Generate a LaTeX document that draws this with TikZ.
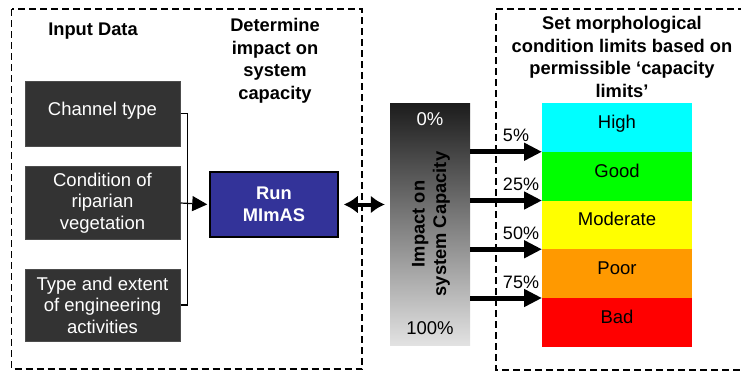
\documentclass[tikz,border=0pt]{standalone}
\usepackage{fontspec}
\setmainfont{Liberation Sans}
\usetikzlibrary{arrows.meta}
\definecolor{inboxc}{HTML}{333333}
\definecolor{runc}{HTML}{333399}
\definecolor{highc}{HTML}{00FFFF}
\definecolor{goodc}{HTML}{00FF00}
\definecolor{modc}{HTML}{FFFF00}
\definecolor{poorc}{HTML}{FF9900}
\definecolor{badc}{HTML}{FF0000}
\definecolor{gtop}{HTML}{1C1C1C}
\definecolor{gbot}{HTML}{E2E2E2}
\begin{document}
\begin{tikzpicture}[x=1pt,y=-1pt,
  font=\fontsize{18.5}{21.5}\selectfont,
  frame/.style={draw=black, line width=1.4pt, dash pattern=on 7pt off 4pt},
  inbox/.style={draw=gray!60!black, line width=1pt, fill=inboxc, text=white, align=center, minimum width=155pt, inner sep=2pt},
  bar/.style={minimum width=150pt, minimum height=48.75pt, inner sep=0pt, outer sep=0pt, text height=12pt, text depth=10pt},
  bigarrow/.style={line width=5pt, -{Triangle[length=18pt,width=17pt]}},
  title/.style={font=\fontsize{18.3}{22.5}\selectfont\bfseries, align=center},
  pct/.style={font=\fontsize{18}{20}\selectfont}
]
\useasboundingbox (0,0) rectangle (741,372);
% frames
\draw[frame] (11.5,9) rectangle (362,369);
\draw[frame] (745,9) -- (496,9) -- (496,370) -- (745,370);
% titles
\node[title] (tin) at (93,31) {Input Data};
\node[title] (tdet) at (275,61) {Determine\\impact on\\system\\capacity};
\node[title] (tset) at (622,57) {Set morphological\\condition limits based on\\permissible ‘capacity\\limits’};
% input boxes
\node[inbox, minimum height=65pt, text height=12pt, text depth=8pt] (b1) at (102.5,113.5) {Channel type};
\node[inbox, minimum height=73pt] (b2) at (102.5,203) {Condition of\\riparian\\vegetation};
\node[inbox, minimum height=72pt] (b3) at (102.5,305) {Type and extent\\of engineering\\activities};
% run box
\node[draw=black, line width=1.5pt, fill=runc, text=white, font=\fontsize{18.3}{21.5}\selectfont\bfseries, align=center, minimum width=128pt, minimum height=65pt] (run) at (274,204.5) {Run\\MImAS};
% connectors
\coordinate (jx) at (187.5,203);
\draw[line width=1.2pt] (b1.east) -| (jx);
\draw[line width=1.2pt] (b3.east) -| (jx);
\draw[line width=1.2pt, -{Triangle[length=15pt,width=15pt]}, shorten >=2pt] (b2.east) -- (run.west);
% gradient box
\node[top color=gtop, bottom color=gbot, minimum width=80pt, minimum height=242pt, inner sep=0pt] (grad) at (430,224) {};
\node[text=white] (p0) at (430,119) {0\%};
\node (p100) at (430,328) {100\%};
\node[rotate=90, font=\fontsize{18.3}{21.5}\selectfont\bfseries, align=center] (imp) at (431,224) {Impact on\\system Capacity};
% double arrow
\draw[line width=4pt, {Latex[length=14pt,width=18pt]}-{Latex[length=14pt,width=18pt]}, shorten <=5pt, shorten >=5pt] (run.east) -- (grad.west |- run.east);
% bars
\node[bar, fill=highc] (hi) at (617,127.375) {High};
\node[bar, fill=goodc] (gd) at (617,176.125) {Good};
\node[bar, fill=modc] (md) at (617,224.875) {Moderate};
\node[bar, fill=poorc] (pr) at (617,273.625) {Poor};
\node[bar, fill=badc] (bd) at (617,322.375) {Bad};
% arrows
\draw[bigarrow] (grad.east |- gd.north west) -- (gd.north west);
\draw[bigarrow] (grad.east |- md.north west) -- (md.north west);
\draw[bigarrow] (grad.east |- pr.north west) -- (pr.north west);
\draw[bigarrow] (grad.east |- bd.north west) -- (bd.north west);
\node[pct] (l5) at (516,135) {5\%};
\node[pct] (l25) at (521,184) {25\%};
\node[pct] (l50) at (521,233) {50\%};
\node[pct] (l75) at (521,282) {75\%};
\end{tikzpicture}
\end{document}
